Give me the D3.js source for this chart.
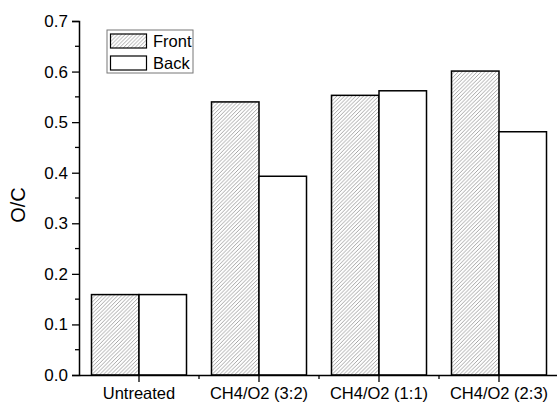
<!DOCTYPE html>
<html>
<head>
<meta charset="utf-8">
<script src="https://cdn.jsdelivr.net/npm/d3@7"></script>
<style>
  body { margin: 0; background: #fff; }
  text { font-family: Arial, "Liberation Sans", sans-serif; }
</style>
</head>
<body>
<div id="chart"></div>
<script>
// data
const categories = ["Untreated", "CH4/O2 (3:2)", "CH4/O2 (1:1)", "CH4/O2 (2:3)"];
const series = ["Front", "Back"];
const front = [0.159, 0.540, 0.553, 0.601];
const back = [0.159, 0.393, 0.562, 0.481];
const yTicks = [0, 0.1, 0.2, 0.3, 0.4, 0.5, 0.6, 0.7];
const yMinor = [0.05, 0.15, 0.25, 0.35, 0.45, 0.55, 0.65];

const W = 557, H = 402;
const plotLeft = 79, plotBottom = 375, plotTop = 21, plotRight = 559;

const svg = d3.select("#chart").append("svg")
  .attr("width", W)
  .attr("height", H);

// hatch pattern for Front, lines going up to the right
const s = 3.8;
const pat = svg.append("defs").append("pattern")
  .attr("id", "hatch")
  .attr("patternUnits", "userSpaceOnUse")
  .attr("width", s)
  .attr("height", s);
pat.append("rect").attr("width", s).attr("height", s).attr("fill", "#fff");
pat.append("path")
  .attr("d", `M${-s / 2},${s / 2} L${s / 2},${-s / 2} M0,${s} L${s},0 M${s / 2},${s * 1.5} L${s * 1.5},${s / 2}`)
  .attr("stroke", "#808080")
  .attr("stroke-width", 0.7);

const x = d3.scaleBand().domain(categories).range([plotLeft, plotRight]).padding(0);
const xs = d3.scaleBand().domain(series).range([0, x.bandwidth()]).paddingOuter(0.263).paddingInner(0);
const y = d3.scaleLinear().domain([0, 0.7]).range([plotBottom, plotTop]);

const rows = categories.map((c, i) => ({ cat: c, Front: front[i], Back: back[i] }));

// bars
svg.append("g").selectAll("g.grp")
  .data(rows)
  .join("g")
  .attr("class", "grp")
  .attr("transform", d => `translate(${x(d.cat)},0)`)
  .selectAll("rect")
  .data(d => series.map(k => ({ s: k, v: d[k] })))
  .join("rect")
  .attr("x", d => xs(d.s))
  .attr("y", d => y(d.v))
  .attr("width", xs.bandwidth())
  .attr("height", d => y(0) - y(d.v))
  .attr("fill", d => d.s === "Front" ? "url(#hatch)" : "#fff")
  .attr("stroke", "#000")
  .attr("stroke-width", 1.5);

// Y axis
const yAxis = svg.append("g")
  .attr("transform", `translate(${plotLeft},0)`)
  .call(d3.axisLeft(y).tickValues(yTicks).tickFormat(d3.format(".1f")).tickSize(7).tickPadding(4));
yAxis.selectAll("text").style("font-size", "17px").attr("fill", "#000");
yAxis.selectAll("line").attr("stroke-width", 1.3);
yAxis.select(".domain").attr("stroke-width", 1.5);

svg.append("g").selectAll("line")
  .data(yMinor)
  .join("line")
  .attr("x1", plotLeft - 4).attr("x2", plotLeft)
  .attr("y1", d => y(d)).attr("y2", d => y(d))
  .attr("stroke", "#000").attr("stroke-width", 1.3);

// X axis
const xAxis = svg.append("g")
  .attr("transform", `translate(0,${plotBottom})`)
  .call(d3.axisBottom(x).tickSize(7).tickPadding(5).tickSizeOuter(0));
xAxis.selectAll("text").style("font-size", "16.5px").attr("fill", "#000");
xAxis.selectAll("line").attr("stroke-width", 1.3);
xAxis.select(".domain").attr("stroke-width", 1.5);

svg.append("g").selectAll("line")
  .data(categories.slice(1))
  .join("line")
  .attr("x1", d => x(d)).attr("x2", d => x(d))
  .attr("y1", plotBottom).attr("y2", plotBottom + 4)
  .attr("stroke", "#000").attr("stroke-width", 1.3);

// Y title
svg.append("text")
  .attr("transform", "translate(25,205) rotate(-90)")
  .attr("text-anchor", "middle")
  .style("font-size", "20px")
  .text("O/C");

// legend
const lg = svg.append("g").attr("transform", "translate(107,30)");
lg.append("rect")
  .attr("width", 86).attr("height", 43)
  .attr("fill", "#fff").attr("stroke", "#777").attr("stroke-width", 1);
series.forEach((k, i) => {
  lg.append("rect")
    .attr("x", 3.5).attr("y", 4 + i * 22)
    .attr("width", 36).attr("height", 14)
    .attr("fill", k === "Front" ? "url(#hatch)" : "#fff")
    .attr("stroke", "#000").attr("stroke-width", 1.2);
  lg.append("text")
    .attr("x", 46).attr("y", 17 + i * 22)
    .style("font-size", "16.5px")
    .text(k);
});
</script>
</body>
</html>
